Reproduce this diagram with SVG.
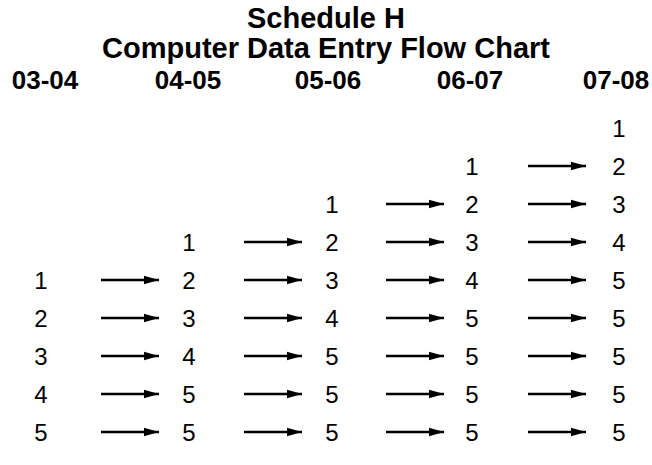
<svg xmlns="http://www.w3.org/2000/svg" width="652" height="465" viewBox="0 0 652 465">
<defs>
<style>
.t{font-family:"Liberation Sans",Arial,sans-serif;font-weight:bold;font-size:29px;fill:#000;text-anchor:middle}
.h{font-family:"Liberation Sans",Arial,sans-serif;font-weight:bold;font-size:26px;fill:#000;text-anchor:middle}
.n{font-family:"Liberation Sans",Arial,sans-serif;font-size:24px;fill:#000;text-anchor:middle}
.a{stroke:#000;stroke-width:2.6;fill:none;marker-end:url(#ah)}
</style>
<marker id="ah" markerUnits="userSpaceOnUse" markerWidth="16" markerHeight="10" refX="15" refY="5" orient="auto">
<path d="M0,0.8 L15,5 L0,9.2 Z" fill="#000"/>
</marker>
</defs>
<rect width="652" height="465" fill="#fff"/>
<g id="title">
<text class="t" x="326" y="28">Schedule H</text>
<text class="t" x="326" y="58">Computer Data Entry Flow Chart</text>
</g>
<g id="headers">
<text class="h" x="45" y="89">03-04</text>
<text class="h" x="188" y="89">04-05</text>
<text class="h" x="328" y="89">05-06</text>
<text class="h" x="470" y="89">06-07</text>
<text class="h" x="616" y="89">07-08</text>
</g>
<g id="col1">
<text class="n" x="41" y="289">1</text>
<text class="n" x="41" y="327">2</text>
<text class="n" x="41" y="365">3</text>
<text class="n" x="41" y="403">4</text>
<text class="n" x="41" y="441">5</text>
</g>
<g id="col2">
<text class="n" x="189" y="251">1</text>
<text class="n" x="189" y="289">2</text>
<text class="n" x="189" y="327">3</text>
<text class="n" x="189" y="365">4</text>
<text class="n" x="189" y="403">5</text>
<text class="n" x="189" y="441">5</text>
</g>
<g id="col3">
<text class="n" x="332" y="213">1</text>
<text class="n" x="332" y="251">2</text>
<text class="n" x="332" y="289">3</text>
<text class="n" x="332" y="327">4</text>
<text class="n" x="332" y="365">5</text>
<text class="n" x="332" y="403">5</text>
<text class="n" x="332" y="441">5</text>
</g>
<g id="col4">
<text class="n" x="472" y="175">1</text>
<text class="n" x="472" y="213">2</text>
<text class="n" x="472" y="251">3</text>
<text class="n" x="472" y="289">4</text>
<text class="n" x="472" y="327">5</text>
<text class="n" x="472" y="365">5</text>
<text class="n" x="472" y="403">5</text>
<text class="n" x="472" y="441">5</text>
</g>
<g id="col5">
<text class="n" x="619" y="137">1</text>
<text class="n" x="619" y="175">2</text>
<text class="n" x="619" y="213">3</text>
<text class="n" x="619" y="251">4</text>
<text class="n" x="619" y="289">5</text>
<text class="n" x="619" y="327">5</text>
<text class="n" x="619" y="365">5</text>
<text class="n" x="619" y="403">5</text>
<text class="n" x="619" y="441">5</text>
</g>
<g id="connectors">
<line class="a" x1="528" y1="166" x2="586" y2="166"/>
<line class="a" x1="386" y1="204" x2="444" y2="204"/>
<line class="a" x1="528" y1="204" x2="586" y2="204"/>
<line class="a" x1="244" y1="242" x2="302" y2="242"/>
<line class="a" x1="386" y1="242" x2="444" y2="242"/>
<line class="a" x1="528" y1="242" x2="586" y2="242"/>
<line class="a" x1="101" y1="280" x2="159" y2="280"/>
<line class="a" x1="244" y1="280" x2="302" y2="280"/>
<line class="a" x1="386" y1="280" x2="444" y2="280"/>
<line class="a" x1="528" y1="280" x2="586" y2="280"/>
<line class="a" x1="101" y1="318" x2="159" y2="318"/>
<line class="a" x1="244" y1="318" x2="302" y2="318"/>
<line class="a" x1="386" y1="318" x2="444" y2="318"/>
<line class="a" x1="528" y1="318" x2="586" y2="318"/>
<line class="a" x1="101" y1="356" x2="159" y2="356"/>
<line class="a" x1="244" y1="356" x2="302" y2="356"/>
<line class="a" x1="386" y1="356" x2="444" y2="356"/>
<line class="a" x1="528" y1="356" x2="586" y2="356"/>
<line class="a" x1="101" y1="394" x2="159" y2="394"/>
<line class="a" x1="244" y1="394" x2="302" y2="394"/>
<line class="a" x1="386" y1="394" x2="444" y2="394"/>
<line class="a" x1="528" y1="394" x2="586" y2="394"/>
<line class="a" x1="101" y1="432" x2="159" y2="432"/>
<line class="a" x1="244" y1="432" x2="302" y2="432"/>
<line class="a" x1="386" y1="432" x2="444" y2="432"/>
<line class="a" x1="528" y1="432" x2="586" y2="432"/>
</g>
</svg>
